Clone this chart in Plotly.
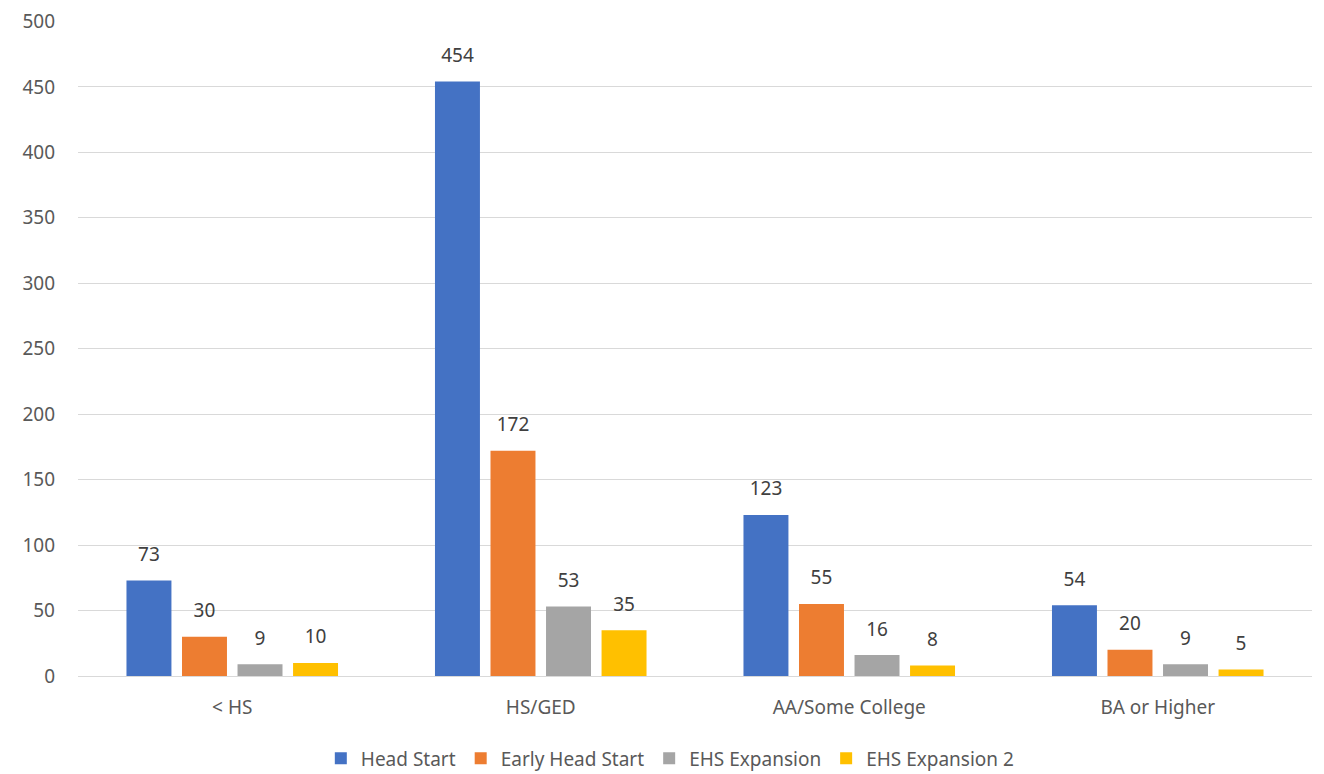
import plotly.graph_objects as go

# categories and series values
categories = ['< HS', 'HS/GED', 'AA/Some College', 'BA or Higher']
head_start = [73, 454, 123, 54]
early_head_start = [30, 172, 55, 20]
ehs_expansion = [9, 53, 16, 9]
ehs_expansion_2 = [10, 35, 8, 5]

series = [
    ('Head Start', head_start, '#4472C4'),
    ('Early Head Start', early_head_start, '#ED7D31'),
    ('EHS Expansion', ehs_expansion, '#A5A5A5'),
    ('EHS Expansion 2', ehs_expansion_2, '#FFC000'),
]

fig = go.Figure()
for i, (name, vals, color) in enumerate(series):
    fig.add_trace(go.Bar(
        x=categories, y=vals, name=name,
        offsetgroup=str(i), alignmentgroup='a',
        marker=dict(color=color, line=dict(width=0)),
    ))
    # value labels as a text scatter sharing the bar's offset group,
    # an invisible marker pushes the label up off the bar like in the original
    fig.add_trace(go.Scatter(
        x=categories, y=vals, mode='markers+text', text=vals,
        textposition='top center', offsetgroup=str(i), alignmentgroup='a',
        marker=dict(size=22, opacity=0), showlegend=False, hoverinfo='skip',
        textfont=dict(size=19, color='#404040'), cliponaxis=False,
    ))

fig.update_layout(
    template='plotly_white',
    width=1324, height=774,
    margin=dict(l=70, r=20, t=13, b=106, autoexpand=False),
    font=dict(family='Noto Sans', size=19, color='#595959'),
    barmode='group', bargap=0.28, bargroupgap=0.19,
    scattermode='group', scattergap=0.28,
    plot_bgcolor='white', paper_bgcolor='white',
    legend=dict(orientation='h', x=0.48, xanchor='center',
                yref='container', y=0.006, yanchor='bottom',
                font=dict(size=19, color='#595959'), itemwidth=30),
)
fig.update_yaxes(range=[0, 500.3], tick0=0, dtick=50, gridcolor='#D9D9D9', gridwidth=1,
                 zeroline=True, zerolinecolor='#D9D9D9', zerolinewidth=1,
                 ticklabelstandoff=22, showline=False)
fig.update_xaxes(showline=False, ticks='', ticklabelstandoff=18)

fig.write_html('out.html')
